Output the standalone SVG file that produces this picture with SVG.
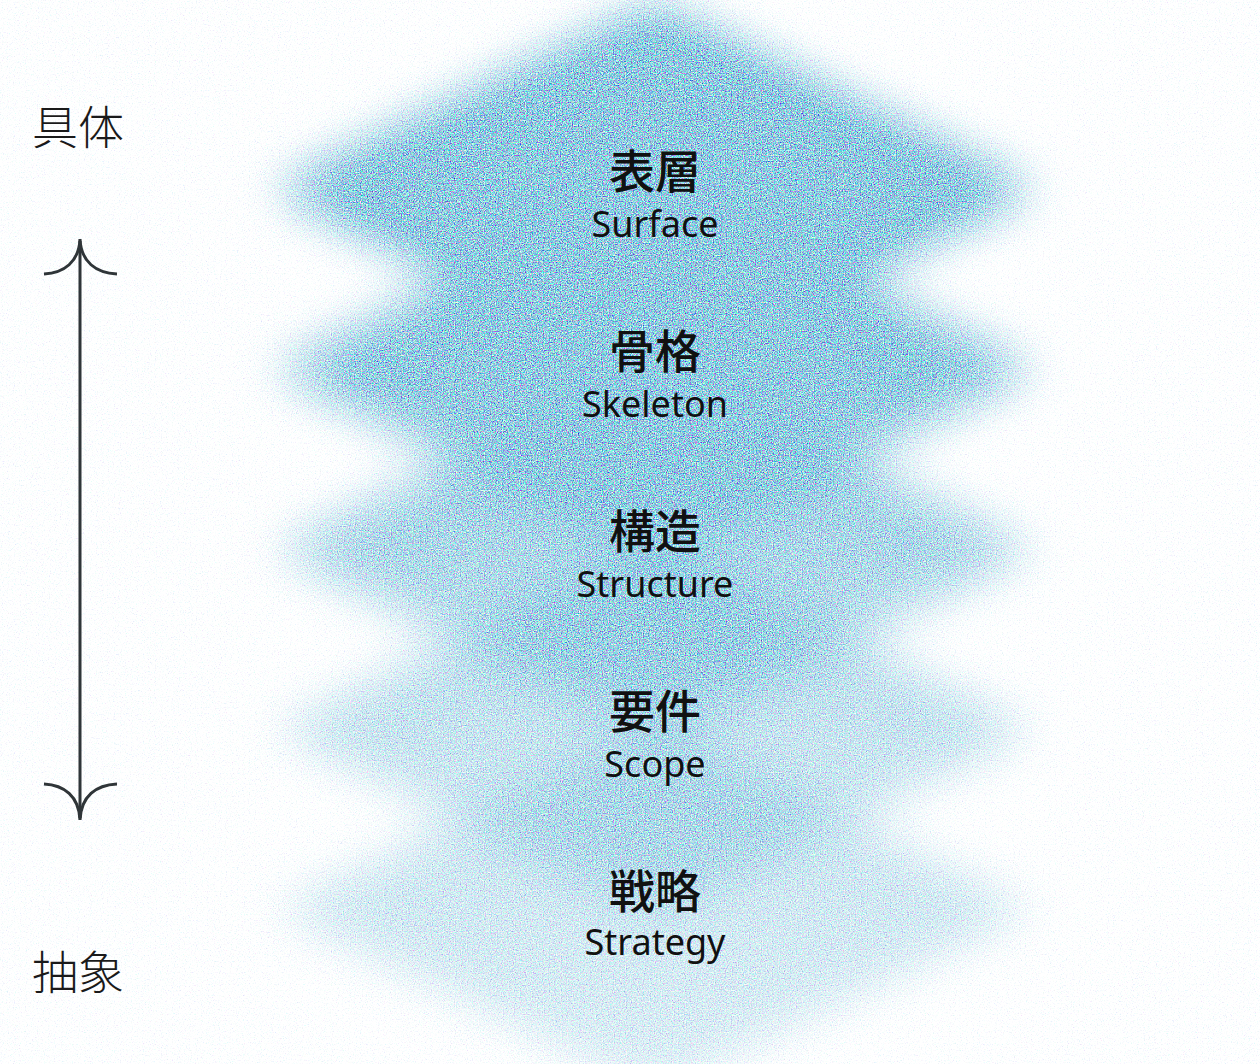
<svg xmlns="http://www.w3.org/2000/svg" width="1260" height="1064" viewBox="0 0 1260 1064">
  <defs>
    <style>
      .jp { font-family: "Noto Sans CJK JP", "Noto Sans CJK SC", sans-serif; font-size: 46px; font-weight: 500; fill: #111111; text-anchor: middle; }
      .en { font-family: "Noto Sans", "Open Sans", sans-serif; font-size: 36px; font-weight: 400; fill: #111111; text-anchor: middle; }
      .side { font-family: "Noto Sans CJK JP", "Noto Sans CJK SC", sans-serif; font-size: 46px; font-weight: 300; fill: #1a1a1a; text-anchor: middle; }
      .shape { fill: url(#fade); }
      .axis { fill: none; stroke: #2f3538; stroke-width: 3; stroke-linecap: butt; }
    </style>
    <linearGradient id="fade" gradientUnits="userSpaceOnUse" x1="0" y1="0" x2="0" y2="1064">
      <stop offset="0.2" stop-color="#000" stop-opacity="1"/>
      <stop offset="0.36" stop-color="#000" stop-opacity="0.85"/>
      <stop offset="0.52" stop-color="#000" stop-opacity="0.62"/>
      <stop offset="0.7" stop-color="#000" stop-opacity="0.42"/>
      <stop offset="1" stop-color="#000" stop-opacity="0.3"/>
    </linearGradient>
    <filter id="grain" filterUnits="userSpaceOnUse" x="0" y="-60" width="1260" height="1190" color-interpolation-filters="sRGB">
      <feGaussianBlur in="SourceAlpha" stdDeviation="25" result="blur"/>
      <feTurbulence type="fractalNoise" baseFrequency="0.83" numOctaves="2" seed="11" result="noise"/>
      <feColorMatrix in="noise" type="matrix" result="col"
        values="1.5 0 0 0 -0.185
                0 1.8 0 0 -0.1
                0 0 0.7 0 0.525
                0 0 0 0 1"/>
      <feColorMatrix in="noise" type="matrix" result="mnoise"
        values="0 0 0 0 0
                0 0 0 0 0
                0 0 0 0 0
                0 0 0 2 -0.5"/>
      <feComposite in="blur" in2="mnoise" operator="arithmetic" k1="0" k2="1.2" k3="0.3" k4="-0.16" result="mask"/>
      <feComposite in="col" in2="mask" operator="in"/>
    </filter>
  </defs>

  <rect x="0" y="0" width="1260" height="1064" fill="#ffffff"/>

  <g id="layers" filter="url(#grain)">
    <polygon id="shape-surface" class="shape" points="655,4 1040,190 655,376 270,190"/>
    <polygon id="shape-skeleton" class="shape" points="655,184 1040,370 655,556 270,370"/>
    <polygon id="shape-structure" class="shape" points="655,364 1040,550 655,736 270,550"/>
    <polygon id="shape-scope" class="shape" points="655,544 1040,730 655,916 270,730"/>
    <polygon id="shape-strategy" class="shape" points="655,724 1040,910 655,1096 270,910"/>
  </g>

  <g id="connectors">
    <line class="axis" x1="80" y1="241" x2="80" y2="818"/>
    <path class="axis" d="M44,274 C64,273 79,262 80,239 C81,262 96,273 117,274"/>
    <path class="axis" d="M44,784 C64,785 79,796 80,820 C81,796 96,785 117,784"/>
  </g>

  <g id="node-concrete">
    <text class="side" x="78" y="144">具体</text>
  </g>
  <g id="node-abstract">
    <text class="side" x="78" y="989">抽象</text>
  </g>

  <g id="node-surface">
    <text class="jp" x="655" y="188">表層</text>
    <text class="en" x="655" y="237">Surface</text>
  </g>
  <g id="node-skeleton">
    <text class="jp" x="655" y="368">骨格</text>
    <text class="en" x="655" y="417">Skeleton</text>
  </g>
  <g id="node-structure">
    <text class="jp" x="655" y="548">構造</text>
    <text class="en" x="655" y="597">Structure</text>
  </g>
  <g id="node-scope">
    <text class="jp" x="655" y="728">要件</text>
    <text class="en" x="655" y="777">Scope</text>
  </g>
  <g id="node-strategy">
    <text class="jp" x="655" y="908">戦略</text>
    <text class="en" x="655" y="955">Strategy</text>
  </g>
</svg>
